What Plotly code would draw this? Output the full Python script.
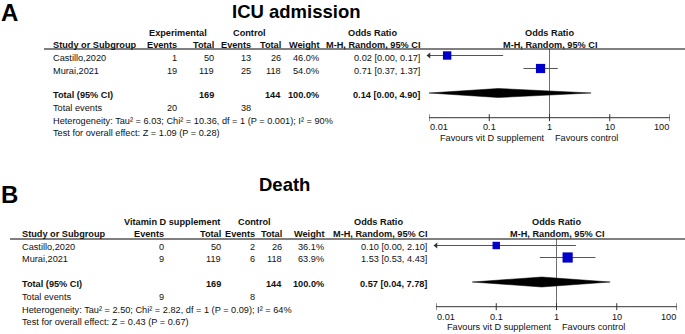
import numpy as np
import plotly.graph_objects as go

W, H = 685, 334
FONT = "Liberation Sans, Arial, sans-serif"

studies = ["Castillo,2020", "Murai,2021"]

# ---------------- Panel A: ICU admission ----------------
a_exp_events = [1, 19]
a_exp_total = [50, 119]
a_ctl_events = [13, 25]
a_ctl_total = [26, 118]
a_weight = [46.0, 54.0]
a_or = [0.02, 0.71]
a_lo = [0.00, 0.37]
a_hi = [0.17, 1.37]
a_total_n = [169, 144]
a_total_events = [20, 38]
a_pooled = [0.14, 0.00, 4.90]
a_het = "Heterogeneity: Tau² = 6.03; Chi² = 10.36, df = 1 (P = 0.001); I² = 90%"
a_test = "Test for overall effect: Z = 1.09 (P = 0.28)"

# ---------------- Panel B: Death ----------------
b_exp_events = [0, 9]
b_exp_total = [50, 119]
b_ctl_events = [2, 6]
b_ctl_total = [26, 118]
b_weight = [36.1, 63.9]
b_or = [0.10, 1.53]
b_lo = [0.00, 0.53]
b_hi = [2.10, 4.43]
b_total_n = [169, 144]
b_total_events = [9, 8]
b_pooled = [0.57, 0.04, 7.78]
b_het = "Heterogeneity: Tau² = 2.50; Chi² = 2.82, df = 1 (P = 0.09); I² = 64%"
b_test = "Test for overall effect: Z = 0.43 (P = 0.67)"

tick_vals = [0.01, 0.1, 1, 10, 100]
tick_text = ["0.01", "0.1", "1", "10", "100"]

# ---------------- layout positions (pixels) ----------------
layA = dict(letter="A", title="ICU admission", group="Experimental", letter_y=12,
            title_x=296, title_y=11.5, h1=33, h2=45, line_y=49, line_x0=44,
            rows=[58, 71], total_y=95, tev_y=108, het_y=120.5, test_y=133,
            axis_y=117.7, tick_lab_y=127, fav_y=138, mark_off=-2.5, dia_off=-2,
            dia_h=4.5, left=52, cols=[178, 215, 252, 282, 320, 421],
            group_x=177.5, ctl_x=249, or_x=372, fx0=429, fx1=670, ax="x2")
layB = dict(letter="B", title="Death", group="Vitamin D supplement", letter_y=194,
            title_x=284.5, title_y=184, h1=222, h2=234, line_y=239, line_x0=10,
            rows=[246.5, 258.5], total_y=284, tev_y=297, het_y=310, test_y=322,
            axis_y=306.7, tick_lab_y=317, fav_y=327, mark_off=-1, dia_off=-2,
            dia_h=5, left=21, cols=[165, 222, 256, 283, 325, 428],
            group_x=172, ctl_x=254, or_x=378, fx0=436, fx1=677, ax="x3")

annotations = []
shapes = []
traces = [go.Scatter(x=[], y=[], xaxis="x", yaxis="y", showlegend=False)]

TXT = "#111111"
RS = 9.2   # regular text size
BS = 9.2   # bold header size


def txt(x, y, s, anchor="left", size=RS, bold=False, xref="x", xshift=0, color=TXT, height=None):
    a = dict(
        x=x, y=y, xref=xref, yref="y", text=f"<b>{s}</b>" if bold else s,
        showarrow=False, xanchor=anchor, yanchor="middle", xshift=xshift,
        font=dict(family=FONT, size=size, color=color), borderpad=0)
    if height is not None:
        a["height"] = height
        a["valign"] = "middle"
    annotations.append(a)


def ci_str(o, l, h):
    return f"{o:.2f} [{l:.2f}, {h:.2f}]"


def panel(L, ee, et, ce, ct, wt, orr, lo, hi, tot_n, tot_ev, pooled, het, test):
    ax = L["ax"]
    axid = ax
    c = L["cols"]
    # letter and title
    txt(0, L["letter_y"], L["letter"], size=24, bold=True, color="#000", height=22)
    txt(L["title_x"], L["title_y"], L["title"], anchor="center", size=18.5, bold=True, color="#000")
    # header row 1
    txt(L["group_x"], L["h1"], L["group"], anchor="center", size=BS, bold=True)
    txt(L["ctl_x"], L["h1"], "Control", anchor="center", size=BS, bold=True)
    txt(L["or_x"], L["h1"], "Odds Ratio", anchor="center", size=BS, bold=True)
    txt(0, L["h1"], "Odds Ratio", anchor="center", size=BS, bold=True, xref=axid)
    # header row 2
    txt(L["left"], L["h2"], "Study or Subgroup", size=BS, bold=True)
    for col, lab in zip(c, ["Events", "Total", "Events", "Total", "Weight", "M-H, Random, 95% CI"]):
        txt(col, L["h2"], lab, anchor="right", size=BS, bold=True)
    txt(0, L["h2"], "M-H, Random, 95% CI", anchor="center", size=BS, bold=True, xref=axid)
    shapes.append(dict(type="line", xref="x", yref="y", x0=L["line_x0"], x1=W,
                       y0=L["line_y"], y1=L["line_y"], line=dict(color="#000", width=1)))
    # study rows
    for i, s in enumerate(studies):
        y = L["rows"][i]
        txt(L["left"], y, s)
        vals = [str(ee[i]), str(et[i]), str(ce[i]), str(ct[i]), f"{wt[i]:.1f}%",
                ci_str(orr[i], lo[i], hi[i])]
        for col, v in zip(c, vals):
            txt(col, y, v, anchor="right")
    # total row
    ty = L["total_y"]
    txt(L["left"], ty, "Total (95% CI)", size=BS, bold=True)
    txt(c[1], ty, str(tot_n[0]), anchor="right", size=BS, bold=True)
    txt(c[3], ty, str(tot_n[1]), anchor="right", size=BS, bold=True)
    txt(c[4], ty, f"{sum(wt):.1f}%", anchor="right", size=BS, bold=True)
    txt(c[5], ty, ci_str(*pooled), anchor="right", size=BS, bold=True)
    txt(L["left"], L["tev_y"], "Total events")
    txt(c[0], L["tev_y"], str(tot_ev[0]), anchor="right")
    txt(c[2], L["tev_y"], str(tot_ev[1]), anchor="right")
    txt(L["left"], L["het_y"], het)
    txt(L["left"], L["test_y"], test)

    # ---- forest plot on log axis ----
    xmin, xmax = tick_vals[0], tick_vals[-1]
    common = dict(xaxis=ax, yaxis="y", showlegend=False, cliponaxis=False, hoverinfo="skip")
    # null line
    traces.append(go.Scatter(x=[1, 1], y=[L["line_y"], L["axis_y"]], mode="lines",
                             line=dict(color="#6e6e6e", width=1), **common))
    # axis line and ticks
    tx, ty_ = [], []
    for t in tick_vals:
        tx += [t, t, None]
        ty_ += [L["axis_y"] - 3.5, L["axis_y"] + 3.5, None]
    traces.append(go.Scatter(x=[xmin, xmax], y=[L["axis_y"]] * 2, mode="lines",
                             line=dict(color="#333", width=1), **common))
    traces.append(go.Scatter(x=tx, y=ty_, mode="lines", line=dict(color="#333", width=1), **common))
    for k, (t, lab) in enumerate(zip(tick_vals, tick_text)):
        anc = "left" if k == 0 else ("right" if k == len(tick_vals) - 1 else "center")
        txt(np.log10(t), L["tick_lab_y"], lab, anchor=anc, size=9.2, xref=axid)
    txt(0, L["fav_y"], "Favours vit D supplement", anchor="right", xref=axid, xshift=-4)
    txt(0, L["fav_y"], "Favours control", anchor="left", xref=axid, xshift=4)
    # CIs and squares
    for i in range(len(studies)):
        ym = L["rows"][i] + L["mark_off"]
        l = max(lo[i], xmin)
        h = min(hi[i], xmax)
        traces.append(go.Scatter(x=[l, h], y=[ym, ym], mode="lines",
                                 line=dict(color="#555", width=1), **common))
        if lo[i] < xmin:
            traces.append(go.Scatter(x=[xmin], y=[ym], mode="markers",
                                     marker=dict(symbol="triangle-left", size=5, color="#333"),
                                     **common))
        traces.append(go.Scatter(x=[orr[i]], y=[ym], mode="markers",
                                 marker=dict(symbol="square", size=3.8 + 0.1 * wt[i],
                                             color="#0000c8", line=dict(width=0)),
                                 **common))
    # diamond
    yd = L["total_y"] + L["dia_off"]
    dh = L["dia_h"]
    pl = max(pooled[1], xmin)
    ph = min(pooled[2], xmax)
    traces.append(go.Scatter(x=[pl, pooled[0], ph, pooled[0], pl],
                             y=[yd, yd - dh, yd, yd + dh, yd], mode="lines", fill="toself",
                             fillcolor="#000", line=dict(color="#000", width=0.5), **common))


panel(layA, a_exp_events, a_exp_total, a_ctl_events, a_ctl_total, a_weight, a_or, a_lo, a_hi,
      a_total_n, a_total_events, a_pooled, a_het, a_test)
panel(layB, b_exp_events, b_exp_total, b_ctl_events, b_ctl_total, b_weight, b_or, b_lo, b_hi,
      b_total_n, b_total_events, b_pooled, b_het, b_test)

fig = go.Figure(data=traces)
fig.update_layout(
    width=W, height=H, margin=dict(l=0, r=0, t=0, b=0),
    paper_bgcolor="white", plot_bgcolor="rgba(0,0,0,0)", showlegend=False, hovermode=False,
    xaxis=dict(range=[0, W], domain=[0, 1], visible=False, fixedrange=True),
    yaxis=dict(range=[H, 0], domain=[0, 1], visible=False, fixedrange=True),
    xaxis2=dict(type="log", range=[-2, 2], domain=[layA["fx0"] / W, layA["fx1"] / W],
                anchor="y", visible=False, fixedrange=True),
    xaxis3=dict(type="log", range=[-2, 2], domain=[layB["fx0"] / W, layB["fx1"] / W],
                anchor="y", visible=False, fixedrange=True),
    annotations=annotations, shapes=shapes,
)
fig.write_html("out.html", config={"displayModeBar": False},
               post_script="document.body.style.margin='0px';document.body.style.overflow='hidden';")
